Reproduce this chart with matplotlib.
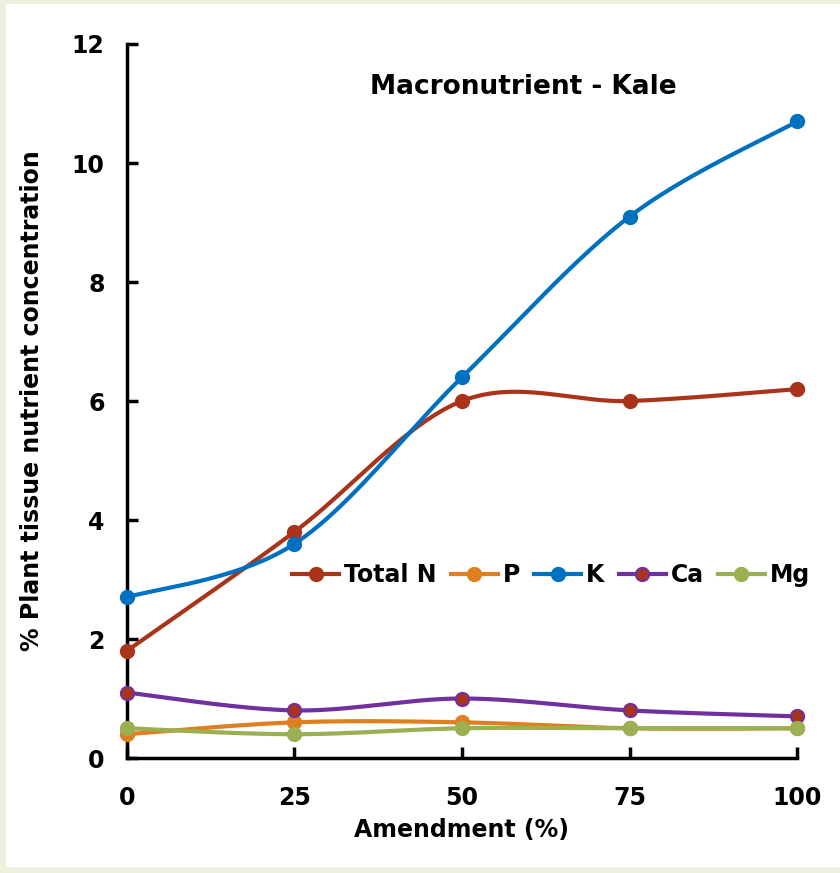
import numpy as np
import matplotlib
matplotlib.use('Agg')
import matplotlib.pyplot as plt
from matplotlib.patches import Rectangle

# 数据
amendment = [0, 25, 50, 75, 100]
total_n = [1.8, 3.8, 6.0, 6.0, 6.2]
p_val = [0.4, 0.6, 0.6, 0.5, 0.5]
k_val = [2.7, 3.6, 6.4, 9.1, 10.7]
ca_val = [1.1, 0.8, 1.0, 0.8, 0.7]
mg_val = [0.5, 0.4, 0.5, 0.5, 0.5]

names = ['Total N', 'P', 'K', 'Ca', 'Mg']
series = [total_n, p_val, k_val, ca_val, mg_val]
line_colors = ['#A9341A', '#E07F1F', '#0070C0', '#7030A0', '#9BB050']
face_colors = ['#A9341A', '#E07F1F', '#0070C0', '#A9341A', '#9BB050']

plt.rcParams['font.family'] = ['DejaVu Sans']
plt.rcParams['font.weight'] = 'bold'

def smooth(xs, ys, n=40):
    # Excel 样式的平滑曲线 (Catmull-Rom -> Bezier)
    x = np.asarray(xs, float)
    y = np.asarray(ys, float)
    px, py = [], []
    m = len(x)
    for i in range(m - 1):
        x0, y0 = (x[i-1], y[i-1]) if i > 0 else (x[i], y[i])
        x3, y3 = (x[i+2], y[i+2]) if i + 2 < m else (x[i+1], y[i+1])
        c1x = x[i] + (x[i+1] - x0) / 6
        c1y = y[i] + (y[i+1] - y0) / 6
        c2x = x[i+1] - (x3 - x[i]) / 6
        c2y = y[i+1] - (y3 - y[i]) / 6
        t = np.linspace(0, 1, n)
        a = (1-t)**3; b = 3*(1-t)**2*t; c = 3*(1-t)*t**2; d = t**3
        px.extend(a*x[i] + b*c1x + c*c2x + d*x[i+1])
        py.extend(a*y[i] + b*c1y + c*c2y + d*y[i+1])
    return px, py

fig = plt.figure(figsize=(8.4, 8.73), dpi=100)
fig.patch.set_facecolor('#EEF0DE')
# 白色画布，左、上、下留一圈浅色边
fig.patches.append(Rectangle((6/840, 6/873), 834/840, 863/873, transform=fig.transFigure,
                             facecolor='white', edgecolor='none', zorder=-5))
ax = fig.add_axes([0.151, 0.1317, 0.798, 0.8179])
ax.set_facecolor('none')

for name, vals, lc, fc in zip(names, series, line_colors, face_colors):
    sx, sy = smooth(amendment, vals)
    ax.plot(sx, sy, color=lc, lw=3, solid_capstyle='round', zorder=2, clip_on=False)
    ax.plot(amendment, vals, linestyle='none', marker='o', ms=9.5, markerfacecolor=fc,
            markeredgecolor=lc, markeredgewidth=1.5, zorder=3, clip_on=False)
    ax.plot([], [], color=lc, lw=3, marker='o', ms=9.5, markerfacecolor=fc,
            markeredgecolor=lc, markeredgewidth=1.5, label=name)

ax.set_xlim(0, 100)
ax.set_ylim(0, 12)
ax.set_xticks(amendment)
ax.set_yticks([0, 2, 4, 6, 8, 10, 12])
ax.spines['top'].set_visible(False)
ax.spines['right'].set_visible(False)
ax.spines['left'].set_linewidth(2.5)
ax.spines['bottom'].set_linewidth(2.5)
ax.tick_params(direction='in', length=8, width=2.5, labelsize=17, pad=16)
ax.tick_params(axis='x', pad=20)
for lab in ax.get_xticklabels() + ax.get_yticklabels():
    lab.set_fontweight('bold')

ax.set_xlabel('Amendment (%)', fontsize=17, fontweight='bold', labelpad=6)
ax.set_ylabel('% Plant tissue nutrient concentration', fontsize=17, fontweight='bold', labelpad=20)
ax.text(0.591, 0.94, 'Macronutrient - Kale', transform=ax.transAxes, ha='center', va='center',
        fontsize=19, fontweight='bold')

fig.legend(loc='center', bbox_to_anchor=(0.656, 0.341), ncol=5, frameon=False,
           prop={'size': 17, 'weight': 'bold'}, handlelength=2.0, handletextpad=0.2,
           columnspacing=0.6)

plt.savefig('out.png', dpi=100)
